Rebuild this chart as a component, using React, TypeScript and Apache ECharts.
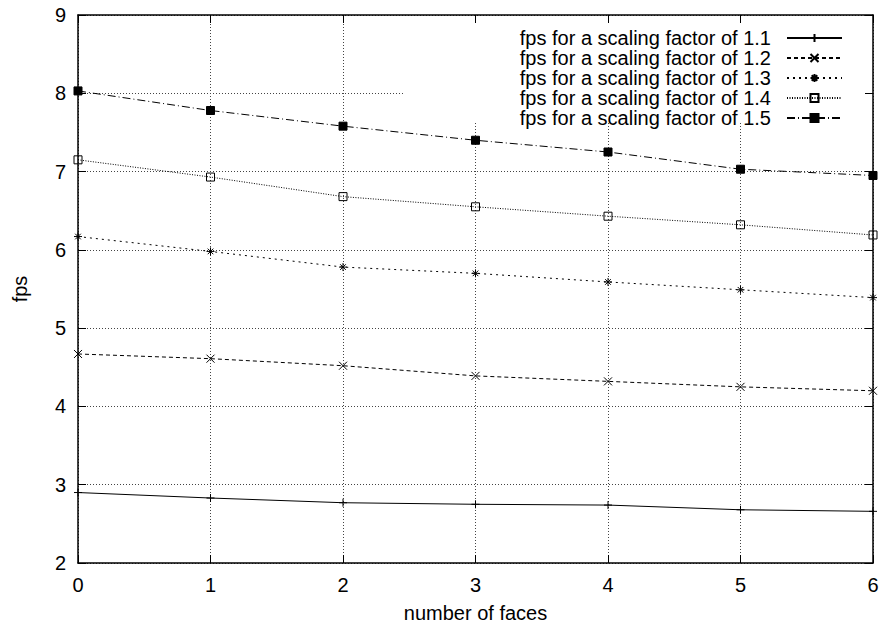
import React, { useEffect, useRef } from "react";
import * as echarts from "echarts";

const faces = [0, 1, 2, 3, 4, 5, 6];
const seriesNames = [
  "fps for a scaling factor of 1.1",
  "fps for a scaling factor of 1.2",
  "fps for a scaling factor of 1.3",
  "fps for a scaling factor of 1.4",
  "fps for a scaling factor of 1.5",
];
const fps11 = [2.9, 2.83, 2.77, 2.75, 2.74, 2.68, 2.66];
const fps12 = [4.67, 4.61, 4.52, 4.39, 4.32, 4.25, 4.2];
const fps13 = [6.17, 5.98, 5.78, 5.7, 5.59, 5.49, 5.39];
const fps14 = [7.15, 6.93, 6.68, 6.55, 6.43, 6.32, 6.19];
const fps15 = [8.03, 7.78, 7.58, 7.4, 7.25, 7.03, 6.95];

const FONT = "'Liberation Sans', Arial, Helvetica, sans-serif";
const FS = 20;

const PLUS = "path://M0,5L10,5M5,0L5,10";
const CROSS = "path://M0,0L10,10M0,10L10,0";
const STAR = "path://M0,5L10,5M5,0L5,10M1.5,1.5L8.5,8.5M1.5,8.5L8.5,1.5";

function mk(name: string, vals: number[], symbol: string, dash: any, fill: string) {
  return {
    name,
    type: "line",
    data: faces.map((x, i) => [x, vals[i]]),
    symbol,
    symbolSize: 8,
    showSymbol: true,
    silent: true,
    z: 2,
    lineStyle: { color: "#000", width: 1, type: dash },
    itemStyle: { color: fill, borderColor: "#000", borderWidth: 1 },
    emphasis: { disabled: true },
  };
}

export default function App() {
  const ref = useRef<HTMLDivElement>(null);
  useEffect(() => {
    document.body.style.margin = "0";
    const chart = echarts.init(ref.current!, null, { renderer: "svg" });
    const axisLine = { show: true, onZero: false, lineStyle: { color: "#000", width: 1.5 } };
    const axisTick = { show: true, inside: true, length: 8, lineStyle: { color: "#000", width: 1 } };
    const splitLine = { show: true, lineStyle: { color: "#444", width: 1, type: [1, 2] } };
    const label = { fontFamily: FONT, fontSize: FS, color: "#000" };
    chart.setOption({
      animation: false,
      backgroundColor: "#fff",
      grid: { left: 78, right: 9, top: 15, bottom: 63 },
      legend: {
        orient: "vertical",
        right: 34,
        top: 23,
        align: "right",
        itemWidth: 55,
        itemHeight: 10,
        itemGap: 0,
        selectedMode: false,
        data: seriesNames,
        textStyle: { ...label, lineHeight: 20, padding: [0, 11, 0, 0] },
      },
      xAxis: [
        {
          type: "value",
          min: 0,
          max: 6,
          interval: 1,
          position: "bottom",
          name: "number of faces",
          nameLocation: "middle",
          nameGap: 40,
          nameTextStyle: label,
          axisLine,
          axisTick,
          axisLabel: { ...label, margin: 12 },
          splitLine,
        },
        {
          type: "value",
          min: 0,
          max: 6,
          interval: 1,
          position: "top",
          z: 5,
          axisLine,
          axisTick,
          axisLabel: { show: false },
          splitLine: { show: false },
        },
      ],
      yAxis: [
        {
          type: "value",
          min: 2,
          max: 9,
          interval: 1,
          position: "left",
          name: "fps",
          nameLocation: "middle",
          nameRotate: 90,
          nameGap: 48,
          nameTextStyle: label,
          axisLine,
          axisTick,
          axisLabel: { ...label, margin: 12 },
          splitLine,
        },
        {
          type: "value",
          min: 2,
          max: 9,
          interval: 1,
          position: "right",
          z: 5,
          axisLine,
          axisTick,
          axisLabel: { show: false },
          splitLine: { show: false },
        },
      ],
      graphic: [
        {
          type: "rect",
          z: 1,
          silent: true,
          shape: { x: 405, y: 16, width: 467, height: 107 },
          style: { fill: "#fff" },
        },
      ],
      series: [
        mk(seriesNames[0], fps11, PLUS, "solid", "#000"),
        mk(seriesNames[1], fps12, CROSS, [4, 3], "#000"),
        mk(seriesNames[2], fps13, STAR, [2, 4], "#000"),
        mk(seriesNames[3], fps14, "rect", [1, 1.5], "rgba(255,255,255,0)"),
        mk(seriesNames[4], fps15, "rect", [8, 3, 1, 3], "#000"),
      ],
    });
    return () => chart.dispose();
  }, []);
  return <div ref={ref} style={{ width: 882, height: 628 }} />;
}
